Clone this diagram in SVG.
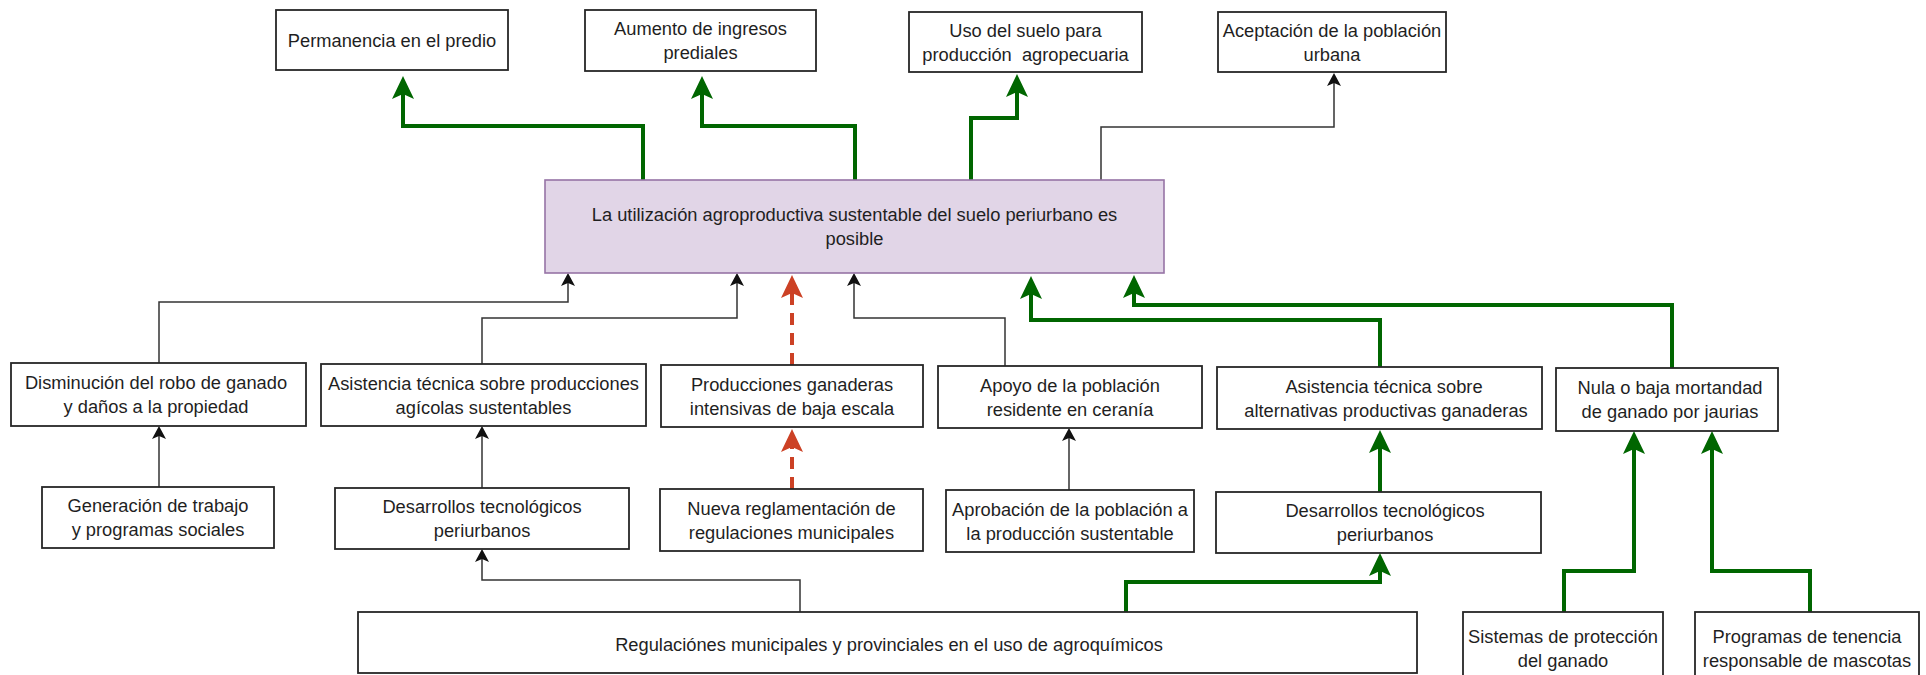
<svg xmlns="http://www.w3.org/2000/svg" width="1926" height="675" viewBox="0 0 1926 675">
<style>
.bx{fill:#ffffff;stroke:#262626;stroke-width:1.8}
.main{fill:#e1d5e7;stroke:#9673a6;stroke-width:1.6}
.t{font-family:"Liberation Sans",Arial,sans-serif;font-size:18.3px;fill:#1f1f1f;text-anchor:middle}
.g{fill:none;stroke:#006600;stroke-width:4;marker-end:url(#arrG)}
.k{fill:none;stroke:#333333;stroke-width:1.5;marker-end:url(#arrK)}
.r{fill:none;stroke:#cc4125;stroke-width:4;stroke-dasharray:12 8;marker-end:url(#arrR)}
</style>
<defs>
<marker id="arrG" markerUnits="userSpaceOnUse" viewBox="0 0 23 22" markerWidth="23" markerHeight="22" refX="5" refY="11" orient="auto"><path d="M0,0 L23,11 L0,22 L5,11 Z" fill="#006600"/></marker>
<marker id="arrR" markerUnits="userSpaceOnUse" viewBox="0 0 23 22" markerWidth="23" markerHeight="22" refX="5" refY="11" orient="auto"><path d="M0,0 L23,11 L0,22 L5,11 Z" fill="#cc4125"/></marker>
<marker id="arrK" markerUnits="userSpaceOnUse" viewBox="0 0 13 14" markerWidth="13" markerHeight="14" refX="3" refY="7" orient="auto"><path d="M0,0 L13,7 L0,14 L3,7 Z" fill="#111111"/></marker>
</defs>
<rect x="0" y="0" width="1926" height="675" fill="#ffffff"/>
<g id="connectors">
<path class="g" d="M643,180 V126 H403 V94"/>
<path class="g" d="M855,180 V126 H702 V94"/>
<path class="g" d="M971,180 V118 H1017 V92"/>
<path class="k" d="M1101,180 V127 H1334 V83"/>
<path class="k" d="M159,363 V302 H568 V283"/>
<path class="k" d="M482,364 V318 H737 V283"/>
<path class="r" d="M792,365 V293"/>
<path class="k" d="M1005,366 V318 H854 V283"/>
<path class="g" d="M1380,367 V320 H1031 V294"/>
<path class="g" d="M1672,368 V305 H1134 V293"/>
<path class="k" d="M159,487 V436"/>
<path class="k" d="M482,488 V436"/>
<path class="r" d="M792,489 V447"/>
<path class="k" d="M1069,490 V438"/>
<path class="g" d="M1380,492 V448"/>
<path class="k" d="M800,612 V580 H482 V559"/>
<path class="g" d="M1126,612 V582 H1380 V571"/>
<path class="g" d="M1564,612 V571 H1634 V449"/>
<path class="g" d="M1810,612 V571 H1712 V449"/>
</g>
<g id="n-permanencia"><rect class="bx" x="276" y="10" width="232" height="60"/><text class="t" x="392" y="46.5">Permanencia en el predio</text></g>
<g id="n-aumento"><rect class="bx" x="585" y="10" width="231" height="61"/><text class="t" x="700.5" y="35">Aumento de ingresos</text><text class="t" x="700.5" y="59">prediales</text></g>
<g id="n-uso"><rect class="bx" x="909" y="12" width="233" height="60"/><text class="t" x="1025.5" y="36.5" xml:space="preserve">Uso del suelo para</text><text class="t" x="1025.5" y="60.5" xml:space="preserve">producción  agropecuaria</text></g>
<g id="n-aceptacion"><rect class="bx" x="1218" y="12" width="228" height="60"/><text class="t" x="1332" y="36.5">Aceptación de la población</text><text class="t" x="1332" y="60.5">urbana</text></g>
<g id="n-main"><rect class="main" x="545" y="180" width="619" height="93"/><text class="t" x="854.5" y="221">La utilización agroproductiva sustentable del suelo periurbano es</text><text class="t" x="854.5" y="245">posible</text></g>
<g id="n-disminucion"><rect class="bx" x="11" y="363" width="295" height="63"/><text class="t" x="156" y="389">Disminución del robo de ganado</text><text class="t" x="156" y="413">y daños a la propiedad</text></g>
<g id="n-asistencia1"><rect class="bx" x="321" y="364" width="325" height="62"/><text class="t" x="483.5" y="389.5">Asistencia técnica sobre producciones</text><text class="t" x="483.5" y="413.5">agícolas sustentables</text></g>
<g id="n-producciones"><rect class="bx" x="661" y="365" width="262" height="62"/><text class="t" x="792" y="390.5">Producciones ganaderas</text><text class="t" x="792" y="414.5">intensivas de baja escala</text></g>
<g id="n-apoyo"><rect class="bx" x="938" y="366" width="264" height="62"/><text class="t" x="1070" y="391.5">Apoyo de la población</text><text class="t" x="1070" y="415.5">residente en ceranía</text></g>
<g id="n-asistencia2"><rect class="bx" x="1217" y="367" width="325" height="62"/><text class="t" x="1384" y="392.5">Asistencia técnica sobre</text><text class="t" x="1386" y="416.5">alternativas productivas ganaderas</text></g>
<g id="n-nula"><rect class="bx" x="1556" y="368" width="222" height="63"/><text class="t" x="1670" y="394">Nula o baja mortandad</text><text class="t" x="1670" y="418">de ganado por jaurias</text></g>
<g id="n-generacion"><rect class="bx" x="42" y="487" width="232" height="61"/><text class="t" x="158" y="512">Generación de trabajo</text><text class="t" x="158" y="536">y programas sociales</text></g>
<g id="n-desarrollos1"><rect class="bx" x="335" y="488" width="294" height="61"/><text class="t" x="482" y="513">Desarrollos tecnológicos</text><text class="t" x="482" y="537">periurbanos</text></g>
<g id="n-nueva"><rect class="bx" x="660" y="489" width="263" height="62"/><text class="t" x="791.5" y="514.5">Nueva reglamentación de</text><text class="t" x="791.5" y="538.5">regulaciones municipales</text></g>
<g id="n-aprobacion"><rect class="bx" x="946" y="490" width="248" height="62"/><text class="t" x="1070" y="515.5">Aprobación de la población a</text><text class="t" x="1070" y="539.5">la producción sustentable</text></g>
<g id="n-desarrollos2"><rect class="bx" x="1216" y="492" width="325" height="61"/><text class="t" x="1385" y="517">Desarrollos tecnológicos</text><text class="t" x="1385" y="541">periurbanos</text></g>
<g id="n-regulaciones"><rect class="bx" x="358" y="612" width="1059" height="61"/><text class="t" x="889" y="651">Regulaciónes municipales y provinciales en el uso de agroquímicos</text></g>
<g id="n-sistemas"><rect class="bx" x="1463" y="612" width="200" height="75"/><text class="t" x="1563" y="642.5">Sistemas de protección</text><text class="t" x="1563" y="666.5">del ganado</text></g>
<g id="n-programas"><rect class="bx" x="1695" y="612" width="224" height="75"/><text class="t" x="1807" y="642.5">Programas de tenencia</text><text class="t" x="1807" y="666.5">responsable de mascotas</text></g>
</svg>
